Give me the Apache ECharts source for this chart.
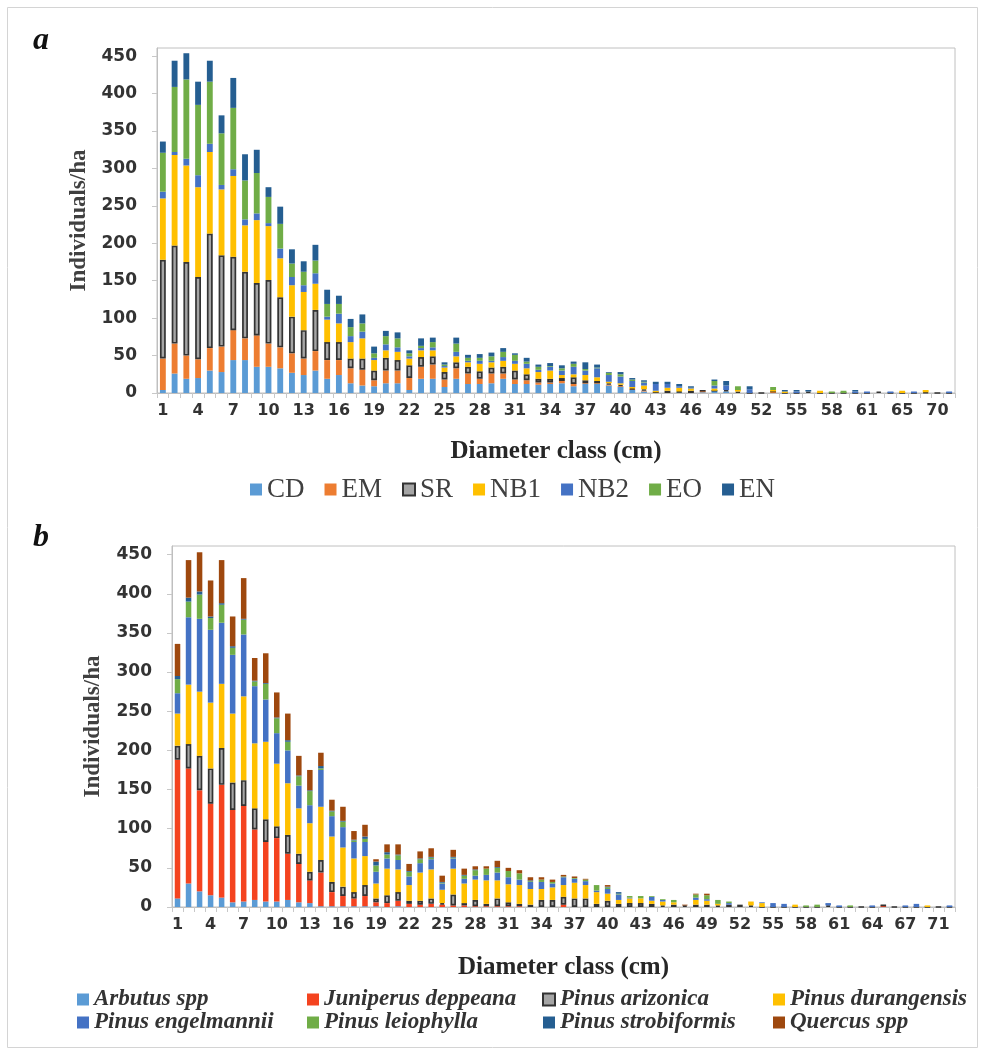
<!DOCTYPE html>
<html>
<head>
<meta charset="utf-8">
<script src="https://cdn.jsdelivr.net/npm/echarts@6/dist/echarts.min.js"></script>
<style>
html,body{margin:0;padding:0;background:#fff;}
#chart{width:983px;height:1054px;}
</style>
</head>
<body>
<div id="chart"></div>
<script>
// ---------- Panel a ----------
const categoriesA = ['1','2','3','4','5','6','7','8','9','10','11','12','13','14','15','16','17','18','19','20',
  '21','22','23','24','25','26','27','28','29','30','31','32','33','34','35','36','37','38','39','40',
  '41','42','43','44','45','46','47','48','49','50','51','52','53','54','55','56','57','58','59','60',
  '61','62','63','65','66','68','70','71'];
const seriesNamesA = ['CD','EM','SR','NB1','NB2','EO','EN'];
const CD  = [4,26,19,20,30,28,44,44,35,35,33,27,24,30,19,24,13,10,9,13,13,4,19,19,8,19,12,12,13,19,12,12,11,12,13,9,12,12,10,8,4,2,0,0,1,0,1,3,2,0,0,0,0,0,0,0,0,0,0,0,0,0,0,0,0,0,0,0];
const EM  = [42,40,31,25,30,34,40,29,42,31,28,26,22,26,25,20,20,21,8,17,17,16,16,19,10,14,14,7,13,7,6,5,3,2,3,3,1,1,1,1,1,1,1,0,0,0,2,0,0,0,0,0,2,0,0,0,0,0,0,0,0,0,0,0,0,0,0,0];
const SR  = [132,131,125,110,153,122,98,89,70,85,67,49,38,55,24,24,13,15,13,17,14,17,13,11,10,8,9,10,8,9,12,8,5,5,4,9,4,3,2,2,1,2,0,3,1,3,0,0,2,2,0,0,0,0,0,2,0,0,0,0,0,2,0,0,0,1,0,0];
const NB1 = [82,121,129,120,109,88,108,62,84,72,52,42,51,35,30,25,22,27,14,10,11,9,9,8,6,8,6,10,7,8,9,8,9,11,4,4,7,5,2,2,2,5,2,4,5,3,0,3,0,2,0,0,2,2,0,0,3,0,0,0,0,0,0,3,0,3,0,0];
const NB2 = [9,4,9,16,11,6,9,8,9,4,13,11,9,14,4,13,8,9,3,8,6,3,3,4,2,6,2,4,2,5,4,6,3,5,6,10,6,12,9,9,8,4,9,5,2,1,0,4,6,0,5,0,0,0,2,0,0,0,0,2,2,0,2,0,2,0,0,2];
const EO  = [52,87,106,94,83,69,82,52,54,35,33,18,18,17,17,13,12,11,6,11,12,4,3,7,2,11,4,4,6,7,8,3,4,1,3,4,2,1,3,3,2,1,0,0,0,0,0,6,0,5,0,0,4,0,0,0,0,2,3,0,0,0,0,0,0,0,0,0];
const EN  = [15,35,35,31,28,24,40,35,31,13,23,19,14,21,19,11,11,12,9,7,8,4,10,6,3,8,4,5,5,5,2,5,3,4,4,3,9,4,1,3,2,2,3,3,3,2,0,2,6,0,4,0,0,2,2,2,0,0,0,2,0,0,0,0,0,0,0,0];
const valuesA = [CD, EM, SR, NB1, NB2, EO, EN];
const colorsA = ['#5B9BD5','#ED7D31','#A5A5A5','#FFC000','#4472C4','#70AD47','#255E91'];

// ---------- Panel b ----------
const categoriesB = ['1','2','3','4','5','6','7','8','9','10','11','12','13','14','15','16','17','18','19','20',
  '21','22','23','24','25','26','27','28','29','30','31','32','33','34','35','36','37','38','39','40',
  '41','42','43','44','45','46','47','48','49','50','51','52','53','54','55','56','57','58','59','60',
  '61','62','63','64','65','66','67','68','70','71','73'];
const seriesNamesB = ['Arbutus spp','Juniperus deppeana','Pinus arizonica','Pinus durangensis',
  'Pinus engelmannii','Pinus leiophylla','Pinus strobiformis','Quercus spp'];
const arbutus     = [11,30,20,15,12,6,7,9,7,7,9,6,5,1,1,1,1,1,1,0,1,0,0,0,0,0,0,0,0,0,0,0,0,0,0,0,0,0,0,0,0,0,0,0,0,0,0,0,0,0,0,0,0,0,0,0,0,0,0,0,0,0,0,0,0,0,0,0,0,0,0];
const juniperus   = [177,147,129,117,144,118,122,90,76,81,59,49,29,43,18,13,10,13,5,5,7,4,3,4,3,2,2,1,1,1,1,1,0,0,0,3,0,0,0,0,0,0,0,0,0,0,0,0,0,0,0,0,0,0,0,0,0,0,0,0,0,0,0,0,2,0,0,0,0,0,0];
const arizonica   = [18,31,44,45,47,35,33,27,29,15,24,13,11,16,13,12,8,14,5,10,11,4,5,7,2,14,3,8,3,10,5,3,3,9,9,10,11,11,4,8,4,5,5,4,2,3,2,3,3,2,3,3,2,0,0,0,0,0,0,2,0,0,0,0,0,0,0,0,0,0,0];
const durangensis = [41,76,82,84,82,88,107,83,99,80,66,58,62,68,58,50,43,37,19,34,29,20,36,37,17,33,25,26,30,23,23,24,20,14,16,15,20,17,15,9,5,6,6,4,5,3,0,6,5,2,0,0,5,5,0,0,3,0,0,0,0,0,0,0,0,0,0,0,2,0,0];
const engelmannii = [26,86,93,93,78,75,79,73,54,39,42,29,23,47,26,26,21,18,15,13,12,11,12,13,8,13,6,5,7,10,9,7,9,9,5,10,5,5,2,6,7,1,0,5,2,0,0,3,2,0,2,0,0,1,5,4,0,0,0,3,2,0,0,2,0,0,2,4,0,0,2];
const leiophylla  = [18,20,31,15,23,9,19,6,20,19,11,12,18,2,6,7,2,4,8,5,6,6,5,2,1,1,4,7,8,6,8,8,1,3,2,1,1,2,7,2,1,2,3,1,1,3,0,4,5,5,2,0,0,0,0,0,0,2,3,0,0,2,0,0,0,0,0,0,0,0,0];
const strobiformis= [4,5,4,2,2,2,1,1,1,1,2,1,1,3,1,1,1,3,5,3,1,1,1,1,1,1,1,1,0,1,0,0,1,0,0,0,0,0,0,1,2,0,0,0,0,0,0,0,0,0,0,0,0,0,0,0,0,0,0,0,0,0,0,0,0,0,0,0,0,0,0];
const quercus     = [41,48,50,46,55,38,52,29,38,32,34,25,26,17,14,18,11,15,3,10,13,9,9,11,8,9,8,4,3,8,4,4,4,3,3,2,2,1,0,2,0,0,0,0,0,0,1,1,2,0,0,0,0,0,0,0,0,0,0,0,0,0,0,0,0,0,0,0,0,0,0];
const valuesB = [arbutus, juniperus, arizonica, durangensis, engelmannii, leiophylla, strobiformis, quercus];
const colorsB = ['#5B9BD5','#F4431F','#A5A5A5','#FFC000','#4472C4','#70AD47','#255E91','#9E480E'];

const yTicks = {min: 0, max: 461, interval: 50};

const numFont = 'DejaVu Sans';
const serif = 'Liberation Serif';

function barSeries(name, data, color, xi, stack, grayBorder) {
  return {
    name: name, type: 'bar', stack: stack, data: data,
    xAxisIndex: xi, yAxisIndex: xi, barWidth: '50%',
    itemStyle: grayBorder ? {color: color, borderColor: '#333', borderWidth: 1.7} : {color: color},
    emphasis: {disabled: true}
  };
}

const series = [];
seriesNamesA.forEach((n, k) => series.push(barSeries(n, valuesA[k], colorsA[k], 0, 'a', n === 'SR')));
seriesNamesB.forEach((n, k) => series.push(barSeries(n, valuesB[k], colorsB[k], 1, 'b', n === 'Pinus arizonica')));

function xAxisCfg(cats, gi, gap) {
  return {
    type: 'category', gridIndex: gi, data: cats,
    axisLine: {show: true, lineStyle: {color: '#bfbfbf', width: 1}},
    axisTick: {show: true, interval: 0, length: 5, lineStyle: {color: '#c8c8c8'}},
    axisLabel: {interval: 2, margin: 10, fontFamily: numFont, fontWeight: 'bold', fontSize: 16, color: '#333'},
    name: 'Diameter class (cm)', nameLocation: 'middle', nameGap: gap,
    nameTextStyle: {fontFamily: serif, fontWeight: 'bold', fontSize: 25, color: '#262626'}
  };
}
function yAxisCfg(gi, gap) {
  return {
    type: 'value', gridIndex: gi, min: yTicks.min, max: yTicks.max, interval: yTicks.interval,
    axisLine: {show: true, lineStyle: {color: '#bfbfbf'}},
    axisTick: {show: true, length: 5, lineStyle: {color: '#c8c8c8'}},
    splitLine: {show: false},
    axisLabel: {showMaxLabel: false, margin: 20, fontFamily: numFont, fontWeight: 'bold', fontSize: 17, color: '#333'},
    name: 'Individuals/ha', nameLocation: 'middle', nameGap: gap, nameRotate: 90,
    nameTextStyle: {fontFamily: serif, fontWeight: 'bold', fontSize: 23, color: '#404040'}
  };
}

const legendTextB = {fontFamily: serif, fontStyle: 'italic', fontWeight: 'bold', fontSize: 23, color: '#333'};
const colLefts = [72, 302, 537, 768];
const legendsB = colLefts.map((l, c) => ({
  orient: 'vertical', left: l, top: 983, itemGap: 0, itemWidth: 12, itemHeight: 12, icon: 'rect',
  data: [seriesNamesB[c], seriesNamesB[c + 4]], textStyle: legendTextB, selectedMode: false
}));

const option = {
  animation: false,
  backgroundColor: '#fff',
  title: [
    {text: 'a', left: 28, top: 20, textStyle: {fontFamily: serif, fontStyle: 'italic', fontWeight: 'bold', fontSize: 32, color: '#111'}},
    {text: 'b', left: 28, top: 517, textStyle: {fontFamily: serif, fontStyle: 'italic', fontWeight: 'bold', fontSize: 32, color: '#111'}}
  ],
  graphic: [{type: 'rect', shape: {x: 7.5, y: 7.5, width: 970, height: 1040}, style: {fill: 'none', stroke: '#d4d4d4', lineWidth: 1}, silent: true}],
  legend: [
    {left: 245, top: 471, itemGap: 20, itemWidth: 12, itemHeight: 12, icon: 'rect', data: seriesNamesA, selectedMode: false,
     textStyle: {fontFamily: serif, fontSize: 27, color: '#404040'}}
  ].concat(legendsB),
  grid: [
    {left: 157, right: 28, top: 48, height: 345, show: true, borderColor: '#c0c0c0', borderWidth: 1, containLabel: false},
    {left: 172, right: 28, top: 546, height: 361, show: true, borderColor: '#c0c0c0', borderWidth: 1, containLabel: false}
  ],
  xAxis: [xAxisCfg(categoriesA, 0, 46), xAxisCfg(categoriesB, 1, 48)],
  yAxis: [yAxisCfg(0, 63), yAxisCfg(1, 67)],
  series: series
};

const chart = echarts.init(document.getElementById('chart'), null, {renderer: 'canvas'});
chart.setOption(option);
</script>
</body>
</html>
